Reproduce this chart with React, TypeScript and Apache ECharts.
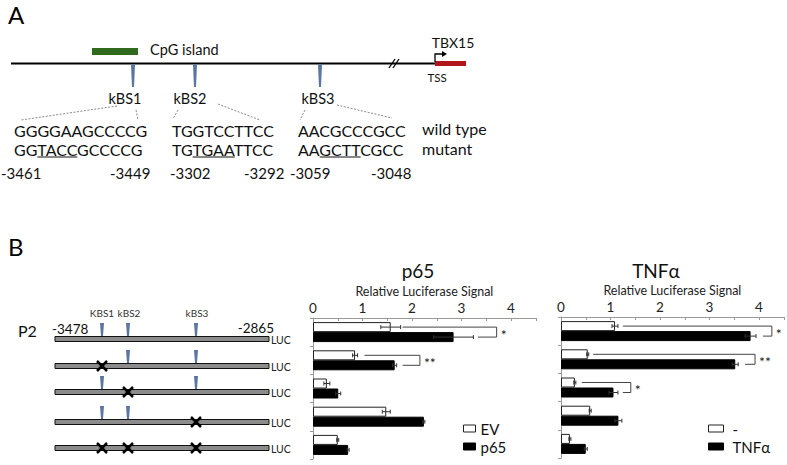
import React, { useEffect, useRef } from "react";
import * as echarts from "echarts";

const FONT = 'Lato, "Open Sans", sans-serif';

// ---------- Panel A data ----------
const siteNames = ["kBS1", "kBS2", "kBS3"];
const wildType = ["GGGGAAGCCCCG", "TGGTCCTTCC", "AACGCCCGCC"];
const mutant = ["GGTACCGCCCCG", "TGTGAATTCC", "AAGCTTCGCC"];
const mutatedSpan = [[2, 6], [2, 6], [2, 6]];
const sitePositions = [["-3461", "-3449"], ["-3302", "-3292"], ["-3059", "-3048"]];

// ---------- Panel B diagram data ----------
const fragmentRange = ["-3478", "-2865"];
const diagramSites = ["KBS1", "kBS2", "kBS3"];
const constructSites = [
  [1, 1, 1],
  [0, 1, 1],
  [1, 0, 1],
  [1, 1, 0],
  [0, 0, 0],
];

// ---------- Panel B chart data ----------
const constructs = ["wild type", "kBS1 mut", "kBS2 mut", "kBS3 mut", "kBS1/2/3 mut"];
const evValues = [1.57, 0.85, 0.28, 1.48, 0.5];
const evErrors = [0.2, 0.05, 0.06, 0.08, 0.02];
const p65Values = [2.84, 1.65, 0.51, 2.24, 0.71];
const p65Errors = [0.4, 0.04, 0.05, 0.02, 0.02];
const p65Brackets = [
  [0, 1.81, 3.71, 3.33],
  [1, 1.04, 2.16, 1.81],
];
const p65Stars = ["*", "**"];

const ctrlValues = [1.09, 0.54, 0.28, 0.59, 0.18];
const ctrlErrors = [0.06, 0.02, 0.02, 0.02, 0.02];
const tnfValues = [3.83, 3.52, 1.06, 1.16, 0.5];
const tnfErrors = [0.11, 0.06, 0.09, 0.07, 0.03];
const tnfBrackets = [
  [0, 1.25, 4.26, 4.08],
  [1, 0.65, 3.92, 3.72],
  [2, 0.42, 1.41, 1.25],
];
const tnfStars = ["*", "**", "*"];

const axisMax = 4.5;
const axisStep = 0.5;

let measureCtx: CanvasRenderingContext2D | null = null;
function measure(text: string, size: number): number {
  if (!measureCtx) measureCtx = document.createElement("canvas").getContext("2d");
  if (!measureCtx) return text.length * size * 0.6;
  measureCtx.font = `${size}px ${FONT}`;
  return measureCtx.measureText(text).width;
}

function txt(text: string, x: number, y: number, size: number, extra: any = {}) {
  return {
    type: "text",
    x,
    y,
    silent: true,
    style: {
      text,
      fontSize: size,
      fontFamily: FONT,
      fill: extra.fill || "#111",
      align: extra.align || "left",
      verticalAlign: "middle",
    },
  };
}
function ln(x1: number, y1: number, x2: number, y2: number, stroke = "#000", lineWidth = 1, lineDash?: number[]) {
  return {
    type: "line",
    silent: true,
    shape: { x1, y1, x2, y2 },
    style: { stroke, lineWidth, lineDash },
  };
}

function buildGraphics() {
  const g: any[] = [];
  // ---- Panel A ----
  g.push(txt("A", 8, 14, 24, { fill: "#000" }));
  g.push({ type: "rect", silent: true, shape: { x: 92, y: 48, width: 46, height: 7 }, style: { fill: "#2f6a1e" } });
  g.push(txt("CpG island", 150, 49, 14.5));
  g.push(ln(11, 63.5, 436, 63.5, "#000", 2));
  // break marks
  g.push(ln(389, 68, 395, 59, "#000", 1.3));
  g.push(ln(393, 68, 399, 59, "#000", 1.3));
  // TSS
  g.push({ type: "rect", silent: true, shape: { x: 435, y: 61, width: 31, height: 5 }, style: { fill: "#b0161b" } });
  g.push({ type: "polyline", silent: true, shape: { points: [[435, 62], [435, 54], [443, 54]] }, style: { stroke: "#000", lineWidth: 1.3, fill: null } });
  g.push({ type: "polygon", silent: true, shape: { points: [[442, 51], [447, 54], [442, 57]] }, style: { fill: "#000" } });
  g.push(txt("TBX15", 453, 42, 14, { align: "center" }));
  g.push(txt("TSS", 437, 77, 11.5, { align: "center" }));

  const markX = [133, 195, 320];
  const labelX = [125, 190, 318];
  markX.forEach((x) => {
    g.push({ type: "polygon", silent: true, shape: { points: [[x - 2, 64.5], [x + 2, 64.5], [x + 1, 87], [x - 1, 87]] }, style: { fill: "#5a76a3" } });
  });
  siteNames.forEach((s, i) => g.push(txt(s, labelX[i], 98, 14.5, { align: "center" })));
  const dashes = [
    [117, 106, 21, 120], [136, 110, 138, 120],
    [178, 110, 173, 119], [218, 104, 260, 120],
    [305, 110, 300, 120], [337, 105, 392, 118],
  ];
  dashes.forEach((d) => g.push(ln(d[0], d[1], d[2], d[3], "#8a8a8a", 1, [2, 1.5])));

  const seqX = [14, 172, 298];
  const seqSize = 16;
  wildType.forEach((s, i) => g.push(txt(s, seqX[i], 130, seqSize)));
  mutant.forEach((s, i) => {
    g.push(txt(s, seqX[i], 149, seqSize));
    const [a, b] = mutatedSpan[i];
    const u0 = seqX[i] + measure(s.slice(0, a), seqSize);
    const u1 = seqX[i] + measure(s.slice(0, b), seqSize);
    g.push(ln(u0, 157, u1, 157, "#111", 1));
  });
  g.push(txt("wild type", 422, 128, 16));
  g.push(txt("mutant", 422, 148, 16));
  const numX = [[1, 110], [170, 244], [290, 371]];
  sitePositions.forEach((p, i) => {
    g.push(txt(p[0], numX[i][0], 173, 15));
    g.push(txt(p[1], numX[i][1], 173, 15));
  });

  // ---- Panel B diagram ----
  g.push(txt("B", 8, 246, 24, { fill: "#000" }));
  g.push(txt("P2", 18, 330, 16));
  g.push(txt(fragmentRange[0], 52, 329, 13.5));
  g.push(txt(fragmentRange[1], 274, 328, 13.5, { align: "right" }));
  const bx = [102, 128, 196];
  const bLabelX = [102, 129, 197];
  diagramSites.forEach((s, i) => g.push(txt(s, bLabelX[i], 313, 10, { align: "center", fill: "#333" })));
  const rowY = [339, 366, 392, 422, 448];
  constructSites.forEach((row, r) => {
    const c = rowY[r];
    g.push({ type: "rect", silent: true, shape: { x: 55, y: c - 2.5, width: 214, height: 5 }, style: { fill: "#8c8c8c", stroke: "#111", lineWidth: 1 } });
    g.push(txt("LUC", 271, c + 0.5, 10.5, { fill: "#222" }));
    row.forEach((on, k) => {
      const x = bx[k];
      if (on) {
        g.push({ type: "polygon", silent: true, shape: { points: [[x - 2, c - 16], [x + 2, c - 16], [x + 1, c - 3], [x - 1, c - 3]] }, style: { fill: "#5a76a3" } });
      } else {
        g.push(ln(x - 5, c - 5, x + 5, c + 5, "#000", 2.5));
        g.push(ln(x - 5, c + 5, x + 5, c - 5, "#000", 2.5));
      }
    });
  });

  // chart titles
  g.push(txt("p65", 418, 270, 19, { align: "center" }));
  g.push(txt("TNFα", 656, 270, 19, { align: "center" }));
  return g;
}

function errSeries(idx: number, values: number[], errors: number[], side: number) {
  return {
    type: "custom",
    xAxisIndex: idx,
    yAxisIndex: idx,
    z: 5,
    silent: true,
    clip: false,
    encode: { x: 1, y: 0 },
    data: values.map((v, i) => [i, v, errors[i]]),
    renderItem: (_p: any, api: any) => {
      const cat = api.value(0);
      const v = api.value(1);
      const e = api.value(2);
      const a = api.coord([v - e, cat]);
      const b = api.coord([v + e, cat]);
      const y = a[1] + side * 5;
      const st = { stroke: "#333", lineWidth: 1 };
      return {
        type: "group",
        children: [
          { type: "line", shape: { x1: a[0], y1: y, x2: b[0], y2: y }, style: st },
          { type: "line", shape: { x1: a[0], y1: y - 2, x2: a[0], y2: y + 2 }, style: st },
          { type: "line", shape: { x1: b[0], y1: y - 2, x2: b[0], y2: y + 2 }, style: st },
        ],
      };
    },
  };
}

function bracketSeries(idx: number, brackets: number[][], stars: string[]) {
  return {
    type: "custom",
    xAxisIndex: idx,
    yAxisIndex: idx,
    z: 6,
    silent: true,
    clip: false,
    encode: { x: 1, y: 0 },
    data: brackets,
    renderItem: (p: any, api: any) => {
      const cat = api.value(0);
      const s = api.coord([api.value(1), cat]);
      const e = api.coord([api.value(2), cat]);
      const r = api.coord([api.value(3), cat]);
      const y1 = s[1] - 5;
      const y2 = s[1] + 5;
      return {
        type: "group",
        children: [
          {
            type: "polyline",
            shape: { points: [[s[0], y1], [e[0], y1], [e[0], y2], [r[0], y2]] },
            style: { stroke: "#444", lineWidth: 1, fill: null },
          },
          {
            type: "text",
            x: e[0] + 4,
            y: s[1] + 2,
            style: { text: stars[p.dataIndex], fontSize: 14, fontFamily: FONT, fill: "#222", verticalAlign: "middle" },
          },
        ],
      };
    },
  };
}

function xAxisCfg(idx: number) {
  return {
    gridIndex: idx,
    type: "value",
    position: "top",
    min: 0,
    max: axisMax,
    interval: axisStep,
    name: "Relative Luciferase Signal",
    nameLocation: "middle",
    nameGap: 20,
    nameTextStyle: { fontSize: 12.5, fontFamily: FONT, color: "#222" },
    axisLine: { show: true, lineStyle: { color: "#999", width: 1 } },
    axisTick: { show: true, inside: true, length: 3, lineStyle: { color: "#999" } },
    splitLine: { show: false },
    axisLabel: {
      fontSize: 13.5,
      fontFamily: FONT,
      color: "#222",
      margin: 3,
      formatter: (v: number) => (Number.isInteger(v) ? String(v) : ""),
    },
  };
}
function yAxisCfg(idx: number) {
  return {
    gridIndex: idx,
    type: "category",
    inverse: true,
    data: constructs,
    axisLine: { show: true, lineStyle: { color: "#999", width: 1 } },
    axisTick: { show: true, length: 3, lineStyle: { color: "#999" } },
    axisLabel: { show: false },
  };
}

function legendCfg(left: number, iconW: number, textPad: number, names: string[], white: any, black: any) {
  return {
    left,
    top: 421,
    orient: "vertical",
    padding: 0,
    itemWidth: iconW,
    itemHeight: 7,
    itemGap: 3,
    height: 40,
    textStyle: { fontSize: 15, lineHeight: 15, fontFamily: FONT, color: "#111", padding: [0, 0, 0, textPad] },
    data: [
      { name: names[0], icon: "rect", itemStyle: white },
      { name: names[1], icon: "rect", itemStyle: black },
    ],
  };
}

export default function App() {
  const ref = useRef<HTMLDivElement>(null);
  useEffect(() => {
    if (!ref.current) return;
    const chart = echarts.init(ref.current, null, { renderer: "svg" });
    const whiteBar = { color: "#fff", borderColor: "#222", borderWidth: 1 };
    const blackBar = { color: "#000", borderColor: "#000", borderWidth: 1 };
    chart.setOption({
      animation: false,
      backgroundColor: "#fff",
      textStyle: { fontFamily: FONT },
      grid: [
        { left: 313, top: 318, width: 222.75, height: 141 },
        { left: 561, top: 317, width: 222.75, height: 141 },
      ],
      xAxis: [xAxisCfg(0), xAxisCfg(1)],
      yAxis: [yAxisCfg(0), yAxisCfg(1)],
      legend: [
        legendCfg(463, 12, 0, ["EV", "p65"], whiteBar, blackBar),
        legendCfg(708, 15, 4, ["-", "TNFα"], whiteBar, blackBar),
      ],
      graphic: buildGraphics(),
      series: [
        { name: "EV", type: "bar", xAxisIndex: 0, yAxisIndex: 0, data: evValues, barWidth: 10, barGap: "0%", itemStyle: whiteBar },
        { name: "p65", type: "bar", xAxisIndex: 0, yAxisIndex: 0, data: p65Values, barWidth: 10, barGap: "0%", itemStyle: blackBar },
        errSeries(0, evValues, evErrors, -1),
        errSeries(0, p65Values, p65Errors, 1),
        bracketSeries(0, p65Brackets, p65Stars),
        { name: "-", type: "bar", xAxisIndex: 1, yAxisIndex: 1, data: ctrlValues, barWidth: 10, barGap: "0%", itemStyle: whiteBar },
        { name: "TNFα", type: "bar", xAxisIndex: 1, yAxisIndex: 1, data: tnfValues, barWidth: 10, barGap: "0%", itemStyle: blackBar },
        errSeries(1, ctrlValues, ctrlErrors, -1),
        errSeries(1, tnfValues, tnfErrors, 1),
        bracketSeries(1, tnfBrackets, tnfStars),
      ],
    });
    return () => chart.dispose();
  }, []);
  return (
    <div
      ref={ref}
      style={{ position: "absolute", left: 0, top: 0, width: 787, height: 465, background: "#fff" }}
    />
  );
}
